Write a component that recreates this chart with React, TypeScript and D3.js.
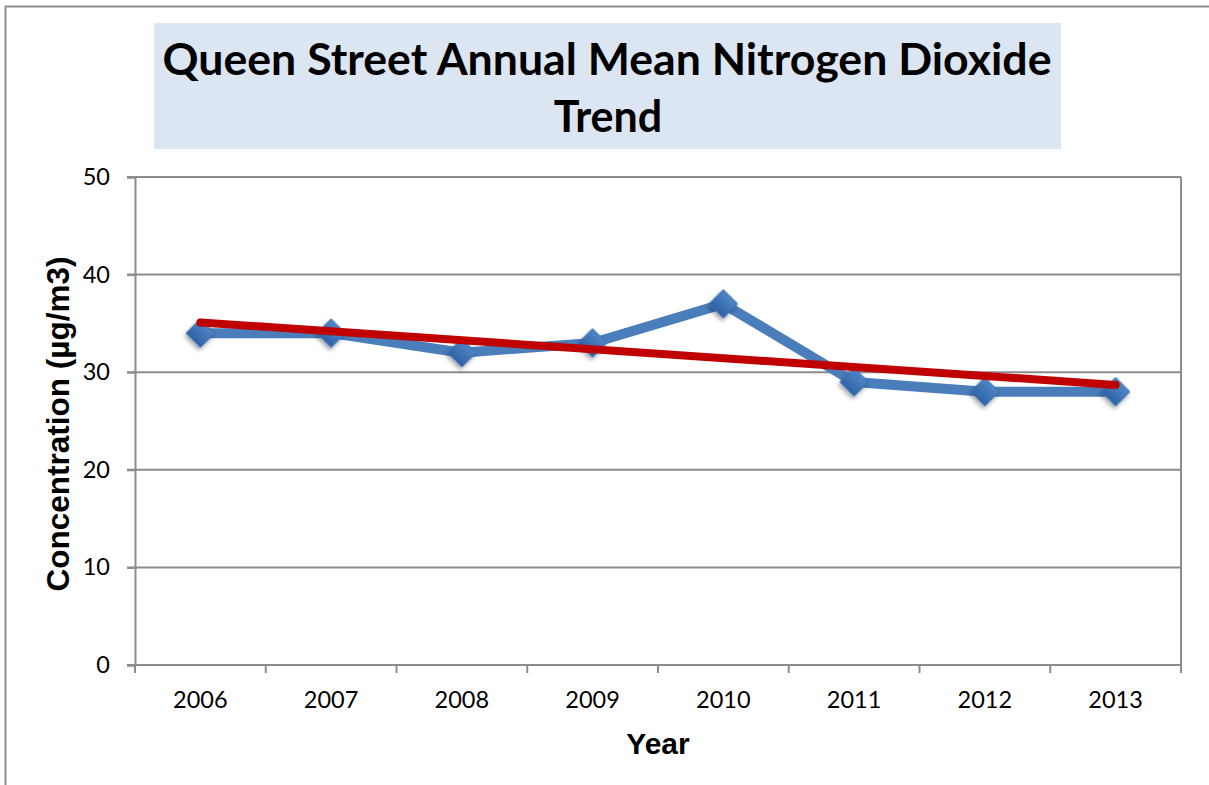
import { useEffect, useRef } from 'react';
import * as d3 from 'd3';

const years = ['2006', '2007', '2008', '2009', '2010', '2011', '2012', '2013'];
const concentration = [34, 34, 32, 33, 37, 29, 28, 28];
// trendline values at first and last year
const trendYears = ['2006', '2013'];
const trendValues = [35.1, 28.7];
const yTicks = [0, 10, 20, 30, 40, 50];

const W = 1209;
const H = 785;
const plot = { left: 135, right: 1181, top: 177, bottom: 665 };

const App = () => {
  const svgRef = useRef<SVGSVGElement>(null);

  useEffect(() => {
    const svg = d3.select(svgRef.current);
    svg.selectAll('*').remove();

    const x = d3.scaleBand().domain(years).range([plot.left, plot.right]);
    const y = d3.scaleLinear().domain([0, 50]).range([plot.bottom, plot.top]);
    const cx = (d: string) => (x(d) as number) + x.bandwidth() / 2;

    const defs = svg.append('defs');
    const f = defs.append('filter').attr('id', 'shadow').attr('x', '-50%').attr('y', '-50%').attr('width', '200%').attr('height', '200%');
    f.append('feDropShadow').attr('dx', 1).attr('dy', 3).attr('stdDeviation', 2).attr('flood-color', '#000').attr('flood-opacity', 0.35);
    const grad = defs.append('linearGradient').attr('id', 'mk').attr('x1', 0).attr('y1', 0).attr('x2', 0).attr('y2', 1);
    grad.append('stop').attr('offset', '0%').attr('stop-color', '#4f86c6');
    grad.append('stop').attr('offset', '100%').attr('stop-color', '#2f62a5');

    // outer frame
    svg.append('path')
      .attr('d', `M5.5,${H} V6.5 H${W}`)
      .attr('fill', 'none').attr('stroke', '#8c8c8c').attr('stroke-width', 2);

    // title box
    svg.append('rect').attr('x', 154).attr('y', 23).attr('width', 907).attr('height', 126).attr('fill', '#dce6f2');
    const title = svg.append('text')
      .attr('text-anchor', 'middle')
      .attr('font-family', 'Lato, "Open Sans", sans-serif')
      .attr('font-weight', 'bold')
      .attr('font-size', 43)
      .attr('fill', '#000');
    title.append('tspan').attr('x', 607).attr('y', 75).attr('textLength', 889).attr('lengthAdjust', 'spacingAndGlyphs')
      .text('Queen Street Annual Mean Nitrogen Dioxide');
    title.append('tspan').attr('x', 608).attr('y', 132).text('Trend');

    // gridlines
    svg.append('g').selectAll('line').data(yTicks).join('line')
      .attr('x1', plot.left - 8).attr('x2', plot.right)
      .attr('y1', d => y(d)).attr('y2', d => y(d))
      .attr('stroke', '#8c8c8c').attr('stroke-width', 2);

    // right border of plot area
    svg.append('line').attr('x1', plot.right).attr('x2', plot.right).attr('y1', plot.top).attr('y2', plot.bottom)
      .attr('stroke', '#8c8c8c').attr('stroke-width', 2);

    // y axis
    const yAxis = svg.append('g').attr('transform', `translate(${plot.left},0)`)
      .call(d3.axisLeft(y).tickValues(yTicks).tickSize(8).tickPadding(17));
    yAxis.select('.domain').attr('stroke', '#8c8c8c').attr('stroke-width', 2);
    yAxis.selectAll('.tick line').attr('stroke', '#8c8c8c').attr('stroke-width', 2);
    yAxis.selectAll('.tick text').attr('font-family', 'Lato, "Open Sans", sans-serif').attr('font-size', 23.5).attr('fill', '#000');

    // x axis with ticks at band edges
    const xAxis = svg.append('g').attr('transform', `translate(0,${plot.bottom})`);
    xAxis.append('line').attr('x1', plot.left).attr('x2', plot.right).attr('stroke', '#8c8c8c').attr('stroke-width', 2);
    const edges = years.map(d => x(d) as number).concat([plot.right]);
    xAxis.selectAll('line.tk').data(edges).join('line').attr('class', 'tk')
      .attr('x1', d => d).attr('x2', d => d).attr('y1', 0).attr('y2', 8)
      .attr('stroke', '#8c8c8c').attr('stroke-width', 2);
    xAxis.selectAll('text').data(years).join('text')
      .attr('x', d => cx(d)).attr('y', 43)
      .attr('text-anchor', 'middle')
      .attr('font-family', 'Lato, "Open Sans", sans-serif').attr('font-size', 23.5)
      .text(d => d);

    // axis titles
    svg.append('text').attr('x', 658).attr('y', 754).attr('text-anchor', 'middle')
      .attr('font-family', '"Liberation Sans", Arial, sans-serif').attr('font-weight', 'bold').attr('font-size', 30)
      .text('Year');
    svg.append('text').attr('transform', `translate(69,${(plot.top + plot.bottom) / 2 + 3}) rotate(-90)`)
      .attr('text-anchor', 'middle')
      .attr('font-family', '"Liberation Sans", Arial, sans-serif').attr('font-weight', 'bold').attr('font-size', 31.5)
      .text('Concentration (µg/m3)');

    // data line
    const ln = d3.line<number>().x((_, i) => cx(years[i])).y(d => y(d));
    svg.append('path').datum(concentration).attr('d', ln)
      .attr('fill', 'none').attr('stroke', '#4a7ebb').attr('stroke-width', 10).attr('stroke-linejoin', 'round');

    // markers
    svg.append('g').selectAll('path').data(concentration).join('path')
      .attr('transform', (d, i) => `translate(${cx(years[i])},${y(d)}) rotate(45)`)
      .attr('d', d3.symbol(d3.symbolSquare, 400)())
      .attr('fill', 'url(#mk)').attr('stroke', '#3a6eb0').attr('stroke-width', 1)
      .attr('filter', 'url(#shadow)');

    // trend line
    const tl = d3.line<number>().x((_, i) => cx(trendYears[i])).y(d => y(d));
    svg.append('path').datum(trendValues).attr('d', tl)
      .attr('fill', 'none').attr('stroke', '#c00000').attr('stroke-width', 8).attr('stroke-linecap', 'round');
  }, []);

  return (
    <svg ref={svgRef} width={W} height={H} style={{ position: 'absolute', left: 0, top: 0, background: '#fff' }} />
  );
};

export default App;
